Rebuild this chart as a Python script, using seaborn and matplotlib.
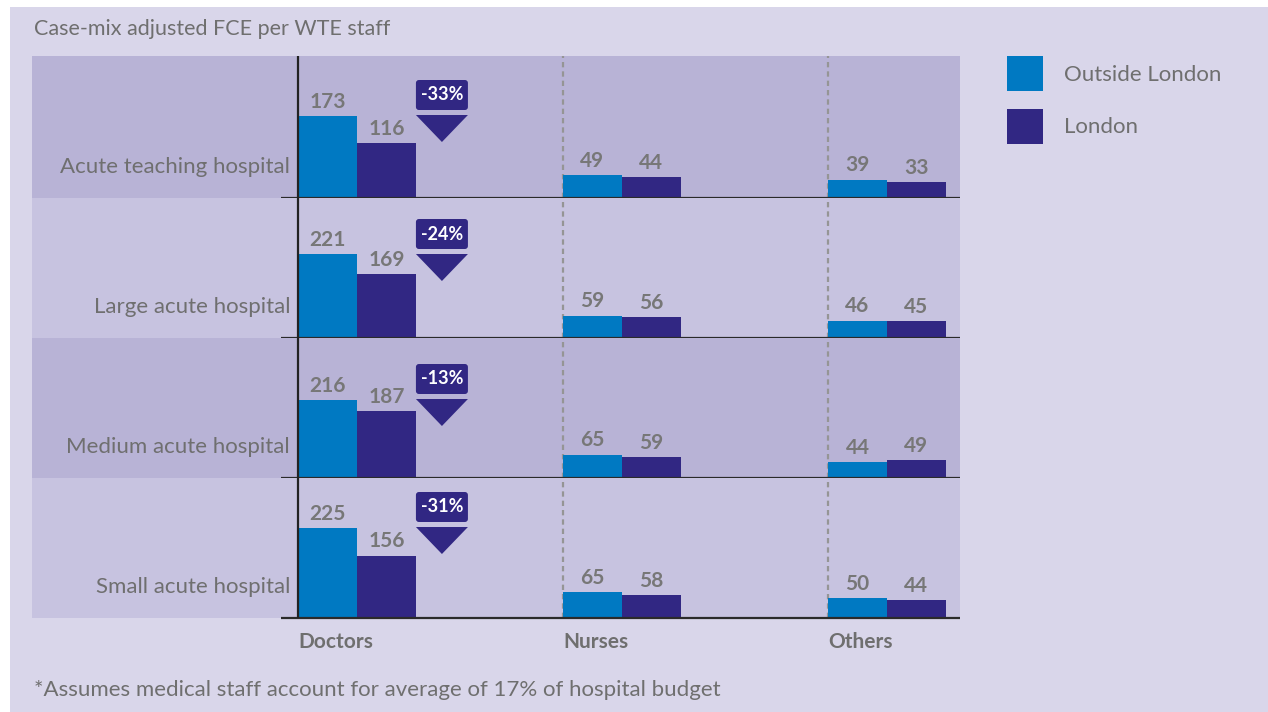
import numpy as np
import pandas as pd
import matplotlib
matplotlib.use("Agg")
import matplotlib.pyplot as plt
import seaborn as sns
from matplotlib.patches import Rectangle, FancyBboxPatch, Polygon, Patch
from matplotlib.transforms import IdentityTransform, blended_transform_factory

# ---------------- data ----------------
hospitals = ["Acute teaching hospital", "Large acute hospital",
             "Medium acute hospital", "Small acute hospital"]
staff = ["Doctors", "Nurses", "Others"]
series = ["Outside London", "London"]
outside_london = [[173, 49, 39], [221, 59, 46], [216, 65, 44], [225, 65, 50]]
london = [[116, 44, 33], [169, 56, 45], [187, 59, 49], [156, 58, 44]]
title = "Case-mix adjusted FCE per WTE staff"
footnote = "*Assumes medical staff account for average of 17% of hospital budget"

# ---------------- style ----------------
sns.set_theme(style="white")
plt.rcParams["font.family"] = ["Lato", "DejaVu Sans"]

W, H = 1268, 712
BLUE, NAVY = "#0079c2", "#312783"
GREY = "#6f6f6f"
VAL_GREY = "#777777"
OUTER_BG = "#d9d6ea"
BANDS = ["#b8b3d6", "#c7c3e0", "#b8b3d6", "#c7c3e0"]

fig = plt.figure(figsize=(W / 100, H / 100), dpi=100)
fig.patch.set_facecolor("white")
fig.add_artist(Rectangle((10 / W, 0), 1 - 10 / W, 1 - 7 / H, transform=fig.transFigure,
                         facecolor=OUTER_BG, edgecolor="none", zorder=-10))

def fx(px):
    return px / W

def fy(py):
    return 1 - py / H

row_tops = [56, 198, 338, 478]
row_bots = [198, 338, 478, 618]
ylims = [300, 368, 389, 350]
badge_off = [24, 21, 26, 14]   # px from row top to badge top

gw = 0.445            # group width
half = gw / 2
ppu = 265.0           # pixels per category unit
x_axis = -half
xleft = x_axis - (298 - 32) / ppu
xright = x_axis + (960 - 298) / ppu

axes = []
for i, hosp in enumerate(hospitals):
    top, bot = row_tops[i], row_bots[i]
    rh = bot - top
    ax = fig.add_axes([fx(32), fy(bot), fx(960) - fx(32), rh / H])
    axes.append(ax)
    df = pd.DataFrame({
        "staff": staff * 2,
        "series": [series[0]] * 3 + [series[1]] * 3,
        "value": outside_london[i] + london[i],
    })
    sns.barplot(data=df, x="staff", y="value", hue="series", order=staff,
                hue_order=series, palette=[BLUE, NAVY], width=gw, saturation=1,
                linewidth=0, legend=False, ax=ax, zorder=3)
    ax.set_xlim(xleft, xright)
    ax.set_ylim(0, ylims[i])
    ax.set_facecolor(BANDS[i])
    for s in ax.spines.values():
        s.set_visible(False)
    ax.set_xticks([])
    ax.set_yticks([])
    ax.set_xlabel("")
    ax.set_ylabel("")
    ax.grid(False)

    for cont in ax.containers:
        ax.bar_label(cont, fmt="%d", padding=3, color=VAL_GREY,
                     fontweight="bold", fontsize=15)

    # axis lines
    ax.plot([x_axis - 17 / ppu, xright], [0, 0], color="#2a2a2a", lw=1.6,
            clip_on=False, zorder=6, solid_capstyle="butt")
    ax.axvline(x_axis, color="#222222", lw=1.6, zorder=6)
    for k in (1, 2):
        ax.axvline(k + x_axis, color="#959595", lw=1.6, ls=(0, (2.4, 1.8)), zorder=1)

    # row label
    tr = blended_transform_factory(ax.transData, ax.transAxes)
    ax.text(x_axis - 8 / ppu, 31 / rh, hosp, transform=tr, ha="right",
            va="center", fontsize=16, color=GREY)

    # change badge
    o, l = outside_london[i][0], london[i][0]
    pct = round((l - o) / o * 100)
    x0_disp = ax.transData.transform((half, 0))[0]
    bw = 52
    top_disp = H - (top + badge_off[i])
    rect_h = 30
    badge = FancyBboxPatch((x0_disp, top_disp - rect_h), bw, rect_h,
                           boxstyle="round,pad=0,rounding_size=3",
                           transform=IdentityTransform(), facecolor=NAVY,
                           edgecolor="none", zorder=7)
    fig.add_artist(badge)
    fig.text((x0_disp + bw / 2) / W, (top_disp - rect_h / 2) / H, f"{pct}%",
             ha="center", va="center", color="white", fontsize=13,
             fontweight="bold", zorder=8)
    t_top = top_disp - rect_h - 5
    tri = Polygon([(x0_disp, t_top), (x0_disp + bw, t_top),
                   (x0_disp + bw / 2, t_top - 27)], closed=True,
                  transform=IdentityTransform(), facecolor=NAVY,
                  edgecolor="none", zorder=7)
    fig.add_artist(tri)

# category labels under the bottom row
axb = axes[-1]
trb = blended_transform_factory(axb.transData, axb.transAxes)
for k, name in enumerate(staff):
    axb.text(k + x_axis, -24 / (row_bots[-1] - row_tops[-1]), name, transform=trb,
             ha="left", va="center", fontsize=15, fontweight="bold", color=GREY)

# title and footnote
fig.text(fx(34), fy(29), title, ha="left", va="center", fontsize=15.5, color=GREY)
fig.text(fx(34), fy(690), footnote, ha="left", va="center", fontsize=16, color=GREY)

# legend
handles = [Patch(facecolor=BLUE, edgecolor="none", label=series[0]),
           Patch(facecolor=NAVY, edgecolor="none", label=series[1])]
leg = fig.legend(handles=handles, loc="upper left", bbox_to_anchor=(fx(1007), fy(56)),
                 frameon=False, fontsize=16, handlelength=1.62, handleheight=2.08,
                 borderpad=0, borderaxespad=0, labelspacing=0.77, handletextpad=0.95)
for t in leg.get_texts():
    t.set_color(GREY)

fig.savefig("out.png", dpi=100, facecolor=fig.get_facecolor())
